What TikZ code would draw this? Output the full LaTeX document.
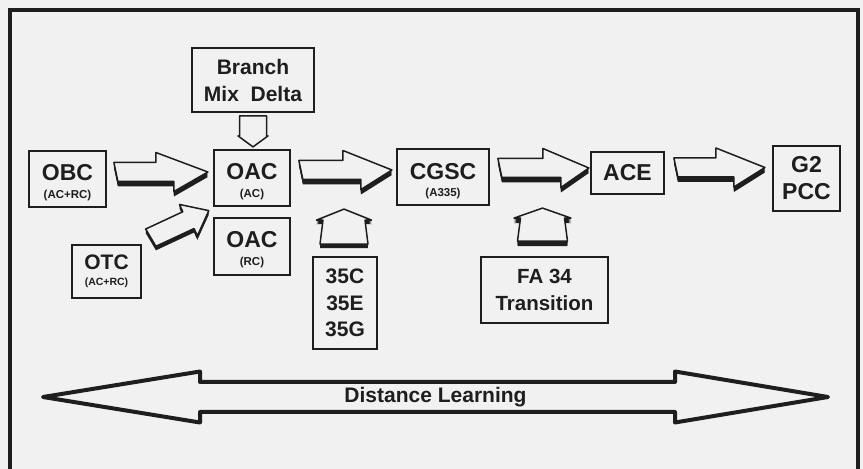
\documentclass[tikz,border=0pt]{standalone}
\usepackage{fontspec}
\setmainfont{Liberation Sans}
\usetikzlibrary{calc}
\definecolor{ink}{HTML}{1E1E1E}
\definecolor{bgc}{HTML}{F1F1F1}
\newcommand\fsz[2]{\fontsize{#1}{#2}\selectfont\bfseries}
% block arrow outline in a local frame: tail at origin, tip at (#1,0)
\newcommand\arrpath[1]{(0,\aSa) -- ({#1-\aHL},\aSb) -- ({#1-\aHL},\aH) -- (#1,0) -- ({#1-\aHL+\aK},-\aH) -- ({#1-\aHL+\aK},-\aSb) -- (\aKt,-\aSa) -- cycle}
% #1 origin, #2 angle, #3 length, #4 shadow depth
\newcommand\blockarr[4]{%
  \begin{scope}[shift={#1}, rotate=#2]
    \ifnum#4>0
      \foreach \d in {1,...,#4}{\fill[ink, shift={({-\d*sin(#2)},{-\d*cos(#2)})}] \arrpath{#3};}
    \fi
    \filldraw[arrface] \arrpath{#3};
  \end{scope}}
\tikzset{
  box/.style={draw=ink, line width=1.8pt, inner sep=0pt, align=center, text=ink},
  bigt/.style={font=\fsz{23}{23}, anchor=base, inner sep=0pt, text=ink},
  smallt/.style={font=\fsz{11.5}{12}, anchor=base, inner sep=0pt, text=ink},
  arrface/.style={fill=bgc, draw=ink, line width=1.5pt, line join=round},
}
\begin{document}
\begin{tikzpicture}[x=1pt, y=1pt]
\useasboundingbox (0,0) rectangle (863,469);
\fill[bgc] (0,0) rectangle (863,469);
% frame
\draw[ink, line width=3.3pt] (10,-5) -- (10,459) -- (858,459) -- (858,-5);

% boxes
\node[box, minimum width=122pt, minimum height=64pt, font=\fsz{21}{27}] (branch) at (253,389) {Branch\\Mix\ \ Delta};

\node[box, minimum width=77pt, minimum height=56pt] (obc) at (67.5,290) {};
\node[bigt] (obc-t) at ($(obc.center)+(0,-1.5)$) {OBC};
\node[smallt] (obc-s) at ($(obc.center)+(0,-20)$) {(AC+RC)};

\node[box, minimum width=76pt, minimum height=56pt] (oacac) at (252,291) {};
\node[bigt] (oacac-t) at ($(oacac.center)+(0,-2)$) {OAC};
\node[smallt] (oacac-s) at ($(oacac.center)+(0,-20)$) {(AC)};

\node[box, minimum width=76pt, minimum height=57pt] (oacrc) at (252,222.5) {};
\node[bigt] (oacrc-t) at ($(oacrc.center)+(0,-1.5)$) {OAC};
\node[smallt] (oacrc-s) at ($(oacrc.center)+(0,-19.5)$) {(RC)};

\node[box, minimum width=69pt, minimum height=53pt] (otc) at (106.5,197.5) {};
\node[bigt, font=\fsz{21}{21}] (otc-t) at ($(otc.center)+(0,1.5)$) {OTC};
\node[smallt, font=\fsz{10.5}{11}] (otc-s) at ($(otc.center)+(0,-14)$) {(AC+RC)};

\node[box, minimum width=64pt, minimum height=92pt, font=\fsz{21}{26.5}] (n35) at (345,166) {35C\\35E\\35G};

\node[box, minimum width=92pt, minimum height=56pt] (cgsc) at (443,292) {};
\node[bigt] (cgsc-t) at ($(cgsc.center)+(0,-3)$) {CGSC};
\node[smallt] (cgsc-s) at ($(cgsc.center)+(0,-20)$) {(A335)};

\node[box, minimum width=73pt, minimum height=42pt, font=\fsz{23}{23}] (ace) at (627.5,296) {ACE};

\node[box, minimum width=67pt, minimum height=65pt, font=\fsz{23}{27}] (g2) at (806.5,290.5) {G2\\PCC};

\node[box, minimum width=127pt, minimum height=66pt, font=\fsz{20.5}{27}] (fa34) at (544.5,179) {FA 34\\Transition};

% block arrows (horizontal)
\def\aSa{9.5}\def\aSb{9.5}\def\aH{19.5}\def\aHL{52}\def\aK{18}\def\aKt{4}
\blockarr{($(obc.east)+(7,7)$)}{0}{94}{5}
\def\aHL{49}
\blockarr{($(oacac.east)+(8,8)$)}{0}{93}{5}
\def\aHL{46}
\blockarr{($(cgsc.east)+(8,9)$)}{0}{91}{5}
\def\aHL{49}
\blockarr{($(ace.east)+(9,5.5)$)}{0}{91}{5}

% down arrow from Branch
\def\aSa{13.5}\def\aSb{13.5}\def\aH{15}\def\aHL{11}\def\aK{0}\def\aKt{0}
\blockarr{($(branch.south)+(0,-3)$)}{-90}{31}{0}

% diagonal arrow from OTC
\def\aSa{10}\def\aSb{10}\def\aH{18}\def\aHL{24}\def\aK{3}\def\aKt{2}
\blockarr{($(otc.north east)+(8,6)$)}{25}{65}{4}

% up arrows
\def\aSa{24}\def\aSb{21}\def\aH{27.5}\def\aHL{11}\def\aK{0}\def\aKt{0}
\blockarr{($(n35.north)+(-1,12)$)}{90}{35}{4}
\def\aSa{25}\def\aSb{22}\def\aH{28.5}\def\aHL{10}
\blockarr{($(fa34.north)+(-2,15)$)}{90}{33}{5}

% distance learning double arrow
\draw[ink, line width=4pt, line join=round]
  (43,72) -- (200,97.5) -- (200,87) -- (675,87) -- (675,97.5) -- (828,72)
  -- (675,46.5) -- (675,57) -- (200,57) -- (200,46.5) -- cycle;
\node[font=\fsz{21}{21}, anchor=base, inner sep=0pt, text=ink] (dl) at (435.5,66) {Distance Learning};
\end{tikzpicture}
\end{document}
